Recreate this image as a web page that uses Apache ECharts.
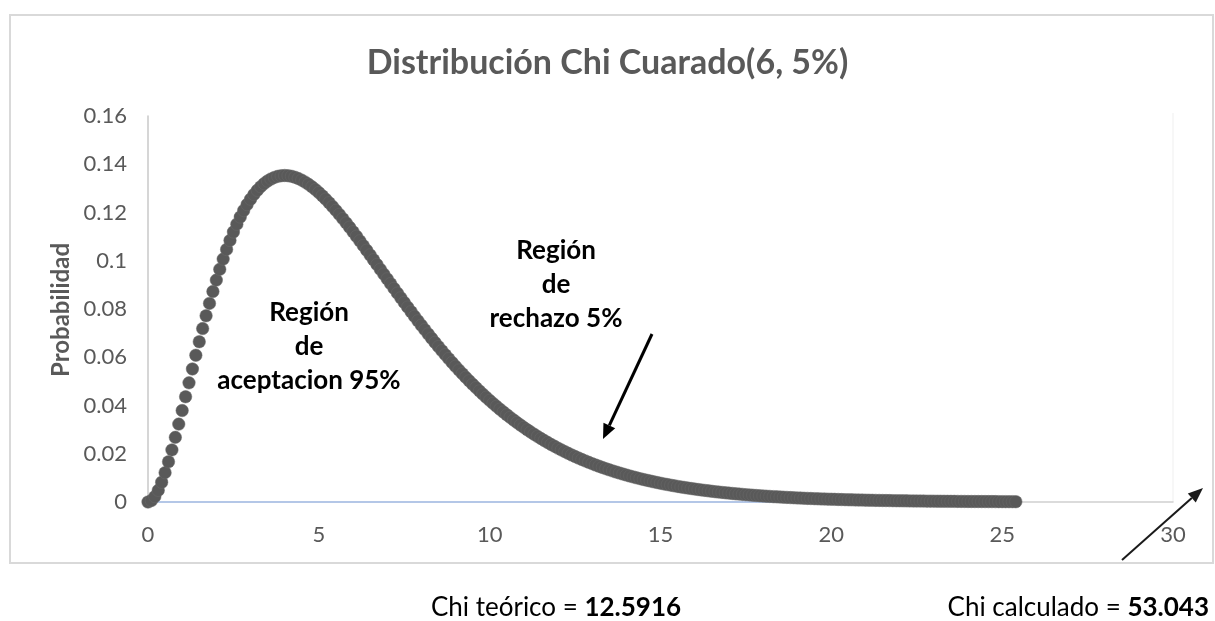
<!DOCTYPE html>
<html>
<head>
<meta charset="utf-8">
<script src="https://cdn.jsdelivr.net/npm/echarts@6/dist/echarts.min.js"></script>
<style>
html,body{margin:0;padding:0;background:#fff;}
#chart{width:1215px;height:621px;}
</style>
</head>
<body>
<div id="chart"></div>
<script>
// ---- data ----
const titleText = 'Distribución Chi Cuarado(6, 5%)';
const yAxisName = 'Probabilidad';
const xTicks = [0, 5, 10, 15, 20, 25, 30];
const yTicks = [0, 0.02, 0.04, 0.06, 0.08, 0.1, 0.12, 0.14, 0.16];
const xs = [
0,0.1,0.2,0.3,0.4,0.5,0.6,0.7,0.8,0.9,
1,1.1,1.2,1.3,1.4,1.5,1.6,1.7,1.8,1.9,
2,2.1,2.2,2.3,2.4,2.5,2.6,2.7,2.8,2.9,
3,3.1,3.2,3.3,3.4,3.5,3.6,3.7,3.8,3.9,
4,4.1,4.2,4.3,4.4,4.5,4.6,4.7,4.8,4.9,
5,5.1,5.2,5.3,5.4,5.5,5.6,5.7,5.8,5.9,
6,6.1,6.2,6.3,6.4,6.5,6.6,6.7,6.8,6.9,
7,7.1,7.2,7.3,7.4,7.5,7.6,7.7,7.8,7.9,
8,8.1,8.2,8.3,8.4,8.5,8.6,8.7,8.8,8.9,
9,9.1,9.2,9.3,9.4,9.5,9.6,9.7,9.8,9.9,
10,10.1,10.2,10.3,10.4,10.5,10.6,10.7,10.8,10.9,
11,11.1,11.2,11.3,11.4,11.5,11.6,11.7,11.8,11.9,
12,12.1,12.2,12.3,12.4,12.5,12.6,12.7,12.8,12.9,
13,13.1,13.2,13.3,13.4,13.5,13.6,13.7,13.8,13.9,
14,14.1,14.2,14.3,14.4,14.5,14.6,14.7,14.8,14.9,
15,15.1,15.2,15.3,15.4,15.5,15.6,15.7,15.8,15.9,
16,16.1,16.2,16.3,16.4,16.5,16.6,16.7,16.8,16.9,
17,17.1,17.2,17.3,17.4,17.5,17.6,17.7,17.8,17.9,
18,18.1,18.2,18.3,18.4,18.5,18.6,18.7,18.8,18.9,
19,19.1,19.2,19.3,19.4,19.5,19.6,19.7,19.8,19.9,
20,20.1,20.2,20.3,20.4,20.5,20.6,20.7,20.8,20.9,
21,21.1,21.2,21.3,21.4,21.5,21.6,21.7,21.8,21.9,
22,22.1,22.2,22.3,22.4,22.5,22.6,22.7,22.8,22.9,
23,23.1,23.2,23.3,23.4,23.5,23.6,23.7,23.8,23.9,
24,24.1,24.2,24.3,24.4,24.5,24.6,24.7,24.8,24.9,
25,25.1,25.2,25.3,25.4
];
const ys = [
0,0.0006,0.00226,0.00484,0.00819,0.01217,0.01667,0.02158,0.02681,0.03228,
0.03791,0.04363,0.04939,0.05514,0.06083,0.06643,0.07189,0.0772,0.08233,0.08726,
0.09197,0.09645,0.10069,0.10469,0.10843,0.11192,0.11515,0.11812,0.12083,0.1233,
0.12551,0.12748,0.12921,0.13071,0.13199,0.13305,0.13389,0.13453,0.13498,0.13525,
0.13534,0.13525,0.13501,0.13461,0.13407,0.1334,0.13259,0.13167,0.13063,0.1295,
0.12826,0.12693,0.12552,0.12404,0.12248,0.12086,0.11919,0.11746,0.11569,0.11387,
0.11202,0.11014,0.10823,0.1063,0.10435,0.10239,0.10041,0.09843,0.09645,0.09446,
0.09248,0.0905,0.08853,0.08657,0.08462,0.08268,0.08076,0.07886,0.07697,0.07511,
0.07326,0.07145,0.06965,0.06788,0.06613,0.06441,0.06272,0.06106,0.05943,0.05782,
0.05624,0.05469,0.05318,0.05169,0.05023,0.0488,0.04741,0.04603,0.0447,0.04339,
0.04211,0.04086,0.03965,0.03845,0.0373,0.03616,0.03506,0.03398,0.03293,0.0319,
0.03091,0.02993,0.02899,0.02808,0.02718,0.02631,0.02547,0.02464,0.02384,0.02307,
0.02231,0.02158,0.02087,0.02017,0.0195,0.01885,0.01822,0.01761,0.01702,0.01644,
0.01588,0.01534,0.01482,0.01431,0.01381,0.01334,0.01288,0.01243,0.012,0.01158,
0.01117,0.01078,0.0104,0.01003,0.00968,0.00933,0.009,0.00868,0.00837,0.00807,
0.00778,0.0075,0.00723,0.00697,0.00671,0.00647,0.00623,0.006,0.00578,0.00557,
0.00537,0.00517,0.00498,0.0048,0.00462,0.00445,0.00428,0.00412,0.00397,0.00382,
0.00368,0.00354,0.0034,0.00328,0.00315,0.00303,0.00292,0.00281,0.0027,0.0026,
0.0025,0.0024,0.00231,0.00222,0.00214,0.00206,0.00198,0.0019,0.00183,0.00176,
0.00169,0.00162,0.00156,0.0015,0.00144,0.00139,0.00133,0.00128,0.00123,0.00118,
0.00114,0.00109,0.00105,0.00101,0.00097,0.00093,0.00089,0.00086,0.00082,0.00079,
0.00076,0.00073,0.0007,0.00067,0.00065,0.00062,0.0006,0.00057,0.00055,0.00053,
0.00051,0.00049,0.00047,0.00045,0.00043,0.00041,0.0004,0.00038,0.00036,0.00035,
0.00034,0.00032,0.00031,0.0003,0.00028,0.00027,0.00026,0.00025,0.00024,0.00023,
0.00022,0.00021,0.0002,0.0002,0.00019,0.00018,0.00017,0.00017,0.00016,0.00015,
0.00015,0.00014,0.00013,0.00013,0.00012
];
const zeroLineXs = [0, 25.4];
const zeroLineYs = [0, 0];
const acceptText = ['Región', 'de', 'aceptacion 95%'];
const rejectText = ['Región', 'de', 'rechazo 5%'];
const chiTeoLabel = 'Chi teórico = ';
const chiTeoValue = '12.5916';
const chiCalcLabel = 'Chi calculado = ';
const chiCalcValue = '53.043';

// ---- chart ----
const FONT = 'Lato, "Open Sans", sans-serif';
const GREY = '#595959';
const chart = echarts.init(document.getElementById('chart'), null, {renderer: 'canvas'});

function arrow(x1, y1, x2, y2, w, headLen, headW, color) {
  const a = Math.atan2(y2 - y1, x2 - x1);
  const bx = x2 - headLen * Math.cos(a), by = y2 - headLen * Math.sin(a);
  const px = -Math.sin(a) * headW / 2, py = Math.cos(a) * headW / 2;
  return [
    {type: 'line', silent: true, shape: {x1: x1, y1: y1, x2: bx, y2: by}, style: {stroke: color, lineWidth: w}},
    {type: 'polygon', silent: true, shape: {points: [[x2, y2], [bx + px, by + py], [bx - px, by - py]]}, style: {fill: color}}
  ];
}

const graphics = [
  {type: 'rect', silent: true, z: -10, shape: {x: 10, y: 15, width: 1203, height: 548},
   style: {fill: 'none', stroke: '#d9d9d9', lineWidth: 2}},
  {type: 'line', silent: true, shape: {x1: 1173, y1: 113, x2: 1173, y2: 502}, style: {stroke: '#efefef', lineWidth: 1}},
  {type: 'text', silent: true, x: 61, y: 310, rotation: Math.PI / 2,
   style: {text: yAxisName, align: 'center', verticalAlign: 'middle', fill: GREY,
           font: 'bold 24px ' + FONT}},
  {type: 'text', silent: true, x: 309, y: 347,
   style: {text: acceptText.join('\n'), align: 'center', verticalAlign: 'middle', fill: '#000',
           font: 'bold 26px ' + FONT, lineHeight: 34}},
  {type: 'text', silent: true, x: 556, y: 285,
   style: {text: rejectText.join('\n'), align: 'center', verticalAlign: 'middle', fill: '#000',
           font: 'bold 26px ' + FONT, lineHeight: 34}},
  {type: 'text', silent: true, x: 556, y: 608,
   style: {text: '{a|' + chiTeoLabel + '}{b|' + chiTeoValue + '}', align: 'center', verticalAlign: 'middle',
           rich: {a: {fontFamily: FONT, fontSize: 26, color: '#000'}, b: {fontFamily: FONT, fontSize: 26, fontWeight: 'bold', color: '#000'}}}},
  {type: 'text', silent: true, x: 1209, y: 608,
   style: {text: '{a|' + chiCalcLabel + '}{b|' + chiCalcValue + '}', align: 'right', verticalAlign: 'middle',
           rich: {a: {fontFamily: FONT, fontSize: 26, color: '#000'}, b: {fontFamily: FONT, fontSize: 26, fontWeight: 'bold', color: '#000'}}}}
].concat(arrow(652, 334, 603, 439, 3, 15, 13, '#000'))
 .concat(arrow(1122, 560, 1203, 488, 2, 15, 12, '#1a1a1a'));

const option = {
  animation: false,
  backgroundColor: '#fff',
  title: {
    text: titleText, left: 'center', top: 41,
    textStyle: {fontFamily: FONT, fontSize: 34, fontWeight: 'bold', color: GREY}
  },
  grid: {left: 148, right: 42, top: 116, bottom: 119, containLabel: false},
  xAxis: {
    type: 'value', min: xTicks[0], max: xTicks[xTicks.length - 1], interval: 5,
    axisLine: {show: true, lineStyle: {color: '#d0d0d0', width: 1.5}},
    axisTick: {show: false}, splitLine: {show: false},
    axisLabel: {color: GREY, fontFamily: FONT, fontSize: 22, margin: 22}
  },
  yAxis: {
    type: 'value', min: yTicks[0], max: yTicks[yTicks.length - 1], interval: 0.02,
    axisLine: {show: true, onZero: false, lineStyle: {color: '#c8c8c8', width: 1.5}},
    axisTick: {show: false}, splitLine: {show: false},
    axisLabel: {color: GREY, fontFamily: FONT, fontSize: 22, margin: 21,
      formatter: function (v) { return String(Math.round(v * 100) / 100); }}
  },
  series: [
    {
      type: 'line', data: zeroLineXs.map((x, i) => [x, zeroLineYs[i]]),
      symbol: 'none', lineStyle: {color: '#b4c7e7', width: 2}, z: 1, silent: true
    },
    {
      type: 'scatter', data: xs.map((x, i) => [x, ys[i]]),
      symbol: 'circle', symbolSize: 12.5,
      itemStyle: {color: GREY, opacity: 1, borderColor: '#6b6b6b', borderWidth: 0.5}, z: 3
    }
  ],
  graphic: graphics
};
chart.setOption(option);
</script>
</body>
</html>
